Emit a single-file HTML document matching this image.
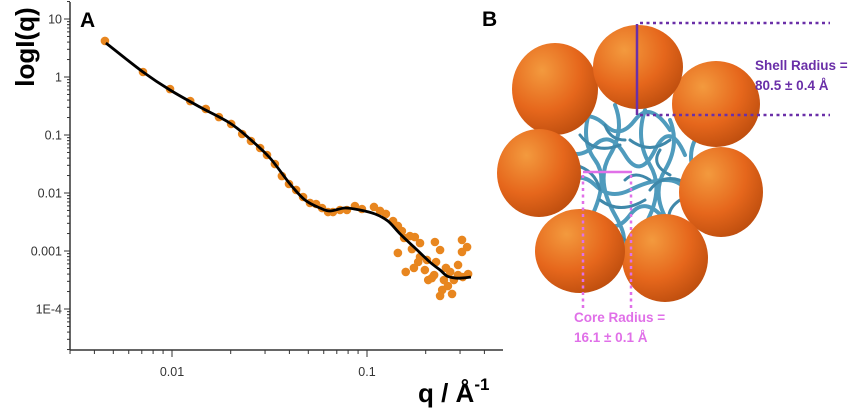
<!DOCTYPE html>
<html><head><meta charset="utf-8"><style>
body{margin:0;background:#fff;}
svg{display:block;font-family:"Liberation Sans",sans-serif;}
</style></head><body>
<svg id="fig" width="853" height="409" viewBox="0 0 853 409">
<defs>
<radialGradient id="sph" cx="0.35" cy="0.3" r="0.8">
<stop offset="0" stop-color="#f39a3e"/><stop offset="0.55" stop-color="#e6671c"/><stop offset="1" stop-color="#b84a0c"/>
</radialGradient>
</defs>
<g id="chart"></g>
<text x="80" y="27" font-size="21" font-weight="bold">A</text>
<text transform="translate(34,47) rotate(-90)" text-anchor="middle" font-size="26" font-weight="bold">logI(q)</text>
<text x="418" y="402" font-size="26" font-weight="bold">q / Å<tspan font-size="17" dy="-12">-1</tspan></text>

<g>
<text x="482" y="26" font-size="21" font-weight="bold">B</text>
<g fill="none" stroke="#4f9bbd" stroke-width="4" stroke-linecap="round">
<path d="M570,120 q20,-10 35,5 t30,-5 t35,10 M565,150 q15,10 30,-5 t30,10 t30,-5 t30,5 M560,185 q20,-15 35,0 t35,5 t35,-10 t20,10 M570,215 q15,-10 30,5 t30,-5 t35,5 M590,240 q20,-10 30,5 t35,-5"/>
<path d="M590,110 q-10,30 5,50 t-5,60 M615,105 q10,25 -5,50 t5,60 t-5,30 M645,110 q-10,30 5,55 t-5,60 M670,120 q10,25 -5,50 t5,55 M695,140 q-10,20 5,45"/>
<path d="M580,135 q15,20 40,10 M630,140 q20,15 40,0 M600,200 q20,15 45,0 M650,190 q15,-20 40,-5 M585,230 q25,-5 40,10 M575,165 q20,5 25,25 M660,150 q-10,15 10,25 M605,125 q5,15 20,15 M625,180 q10,-10 25,0 M680,200 q-15,10 -10,25" stroke="#3f88aa" stroke-width="3"/>
</g>
<ellipse cx="555" cy="89" rx="43" ry="46" fill="url(#sph)"/>
<ellipse cx="716" cy="104" rx="44" ry="43" fill="url(#sph)"/>
<ellipse cx="638" cy="67" rx="45" ry="42" fill="url(#sph)"/>
<ellipse cx="539" cy="173" rx="42" ry="44" fill="url(#sph)"/>
<ellipse cx="721" cy="192" rx="42" ry="45" fill="url(#sph)"/>
<ellipse cx="665" cy="258" rx="43" ry="44" fill="url(#sph)"/>
<ellipse cx="580" cy="251" rx="45" ry="42" fill="url(#sph)"/>
<g stroke="#6a2fa8" stroke-width="2.5">
<line x1="637" y1="24" x2="637" y2="115"/>
<line x1="640" y1="23" x2="830" y2="23" stroke-dasharray="3,3.5"/>
<line x1="640" y1="115" x2="830" y2="115" stroke-dasharray="3,3.5"/>
</g>
<text x="755" y="70" font-size="13.5" font-weight="bold" fill="#6a2fa8">Shell Radius =</text>
<text x="755" y="90" font-size="13.5" font-weight="bold" fill="#6a2fa8">80.5 ± 0.4 Å</text>
<g stroke="#e070e8" stroke-width="2.5">
<line x1="583" y1="172" x2="632" y2="172"/>
<line x1="583" y1="175" x2="583" y2="308" stroke-dasharray="3,3.5"/>
<line x1="631" y1="175" x2="631" y2="308" stroke-dasharray="3,3.5"/>
</g>
<text x="574" y="322" font-size="13.5" font-weight="bold" fill="#e070e8">Core Radius =</text>
<text x="574" y="342" font-size="13.5" font-weight="bold" fill="#e070e8">16.1 ± 0.1 Å</text>
</g>
</svg>
<script>
const qData=[0.00453,0.0071,0.00977,0.0124,0.0149,0.0174,0.0201,0.0229,0.0254,0.0283,0.0307,0.0337,0.0366,0.0398,0.0433,0.047,0.051,0.0548,0.0588,0.0631,0.0669,0.0727,0.0789,0.0867,0.0942,0.1086,0.1166,0.125,0.136,0.144,0.151,0.144,0.155,0.166,0.176,0.187,0.158,0.174,0.187,0.198,0.206,0.215,0.223,0.237,0.243,0.254,0.267,0.279,0.293,0.307,0.237,0.248,0.307,0.310,0.326,0.330,0.203,0.170,0.183,0.221,0.273,0.226,0.260,0.293];
const iData=[4.18,1.22,0.62,0.385,0.281,0.204,0.155,0.104,0.0788,0.0597,0.0452,0.0316,0.0196,0.0143,0.0113,0.00853,0.00673,0.00646,0.00551,0.0047,0.0047,0.00509,0.00509,0.00597,0.0053,0.00574,0.0049,0.00435,0.00329,0.0027,0.00221,0.000925,0.00168,0.00181,0.00174,0.00137,0.000435,0.00051,0.000788,0.00047,0.000316,0.000342,0.00143,0.00104,0.000213,0.00051,0.000435,0.000316,0.000574,0.000962,0.000168,0.000316,0.00155,0.000356,0.00117,0.000401,0.0007,0.00108,0.000646,0.000385,0.000182,0.000646,0.000249,0.000385];
const qFit=[0.00458,0.0071,0.00977,0.0139,0.0198,0.0251,0.0318,0.0403,0.0481,0.0574,0.0646,0.0771,0.092,0.110,0.128,0.148,0.176,0.210,0.237,0.257,0.283,0.307,0.341];
const iFit=[3.86,1.22,0.597,0.304,0.161,0.0853,0.0401,0.0143,0.00757,0.00551,0.0049,0.00551,0.00509,0.00435,0.00329,0.00196,0.00113,0.000646,0.00047,0.000371,0.000342,0.000342,0.000356];
const yTickVals=[10,1,0.1,0.01,0.001,0.0001];
const yTickLabels=["10","1","0.1","0.01","0.001","1E-4"];
const xTickVals=[0.01,0.1];
const xTickLabels=["0.01","0.1"];

const NS="http://www.w3.org/2000/svg";
const g=document.getElementById('chart');
const L=70,R=503,T=0,B=350;
function xs(q){return 172+(Math.log10(q)+2)*195;}
function ys(v){return 19+(1-Math.log10(v))*58;}
function mk(t,a){const e=document.createElementNS(NS,t);for(const k in a)e.setAttribute(k,a[k]);g.appendChild(e);return e;}
let e;
e=mk('line',{x1:L,y1:T+2,x2:L,y2:B,stroke:'#333','stroke-width':1.5});


e=mk('line',{x1:L,y1:B,x2:R,y2:B,stroke:'#333','stroke-width':1.5});


for(let d=-5;d<=1;d++){for(let m=1;m<10;m++){const v=m*Math.pow(10,d);const y=ys(v);if(y<T||y>B)continue;
e=mk('line',{x1:L-(m==1?6:3),y1:y,x2:L,y2:y,stroke:'#333','stroke-width':1});

}}
yTickVals.forEach((v,i)=>{e=mk('text',{x:L-8,y:ys(v)+4.5,'text-anchor':'end','font-size':12.5,fill:'#333'});e.textContent=yTickLabels[i];

});
for(let d=-3;d<=0;d++){for(let m=1;m<10;m++){const v=m*Math.pow(10,d);const x=xs(v);if(x<L||x>R)continue;
e=mk('line',{x1:x,y1:B,x2:x,y2:B+(m==1?7:4),stroke:'#333','stroke-width':1});

}}
xTickVals.forEach((v,i)=>{e=mk('text',{x:xs(v),y:B+26,'text-anchor':'middle','font-size':12.5,fill:'#333'});e.textContent=xTickLabels[i];

});
qData.forEach((q,i)=>{e=mk('circle',{cx:xs(q),cy:ys(iData[i]),r:4.3,fill:'#e8861f'});

});
const P=qFit.map((q,i)=>[xs(q),ys(iFit[i])]);
let d='M'+P[0][0].toFixed(1)+','+P[0][1].toFixed(1);
for(let i=0;i<P.length-1;i++){const p0=P[Math.max(0,i-1)],p1=P[i],p2=P[i+1],p3=P[Math.min(P.length-1,i+2)];
const c1=[p1[0]+(p2[0]-p0[0])/6,p1[1]+(p2[1]-p0[1])/6],c2=[p2[0]-(p3[0]-p1[0])/6,p2[1]-(p3[1]-p1[1])/6];
d+='C'+c1[0].toFixed(1)+','+c1[1].toFixed(1)+' '+c2[0].toFixed(1)+','+c2[1].toFixed(1)+' '+p2[0].toFixed(1)+','+p2[1].toFixed(1);}
e=mk('path',{d:d,fill:'none',stroke:'#000','stroke-width':2.8,'stroke-linejoin':'round'});


</script>
</body></html>
